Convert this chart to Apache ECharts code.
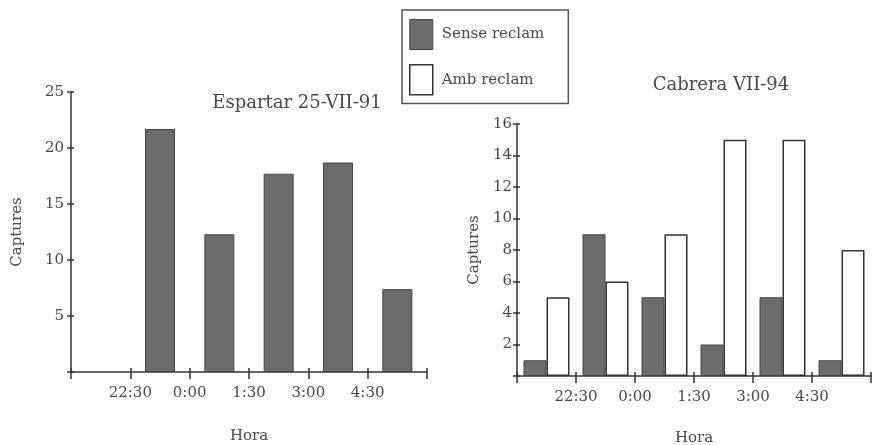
<!DOCTYPE html>
<html>
<head>
<meta charset="utf-8">
<script src="https://cdn.jsdelivr.net/npm/echarts@6/dist/echarts.min.js"></script>
<style>
html,body{margin:0;padding:0;background:#fff;}
#c{width:873px;height:445px;}
</style>
</head>
<body>
<div id="c"></div>
<script>
// Data
const bands = ['21:00-22:30', '22:30-0:00', '0:00-1:30', '1:30-3:00', '3:00-4:30', '4:30-6:00'];
const tickLabels = ['', '22:30', '0:00', '1:30', '3:00', '4:30', ''];
const espartarSense = [0, 21.7, 12.3, 17.7, 18.7, 7.4];
const cabreraSense = [1, 9, 5, 2, 5, 1];
const cabreraAmb = [5, 6, 9, 15, 15, 8];
const titles = ['Espartar 25-VII-91', 'Cabrera VII-94'];
const seriesNames = ['Sense reclam', 'Amb reclam'];

const FONT = 'DejaVu Serif';
const TXT = '#484848';
const AX = '#333333';
const DARK = '#6c6c6c';

const chart = echarts.init(document.getElementById('c'));

// empty bins are drawn as no bar (avoid a zero-height outlined rect)
const noZero = arr => arr.map(v => (v === 0 ? '-' : v));

function xAxes(gi, nameGap) {
  return [
    {
      type: 'category', gridIndex: gi, data: bands, boundaryGap: true,
      axisLine: { show: true, lineStyle: { color: AX, width: 1.5 } },
      axisTick: { show: true, inside: false, length: 7, interval: 0, lineStyle: { color: AX, width: 1.5 } },
      axisLabel: { show: false },
      name: 'Hora', nameLocation: 'middle', nameGap: nameGap,
      nameTextStyle: { fontFamily: FONT, fontSize: 15, color: TXT }
    },
    {
      type: 'category', gridIndex: gi, data: tickLabels, boundaryGap: false, position: 'bottom',
      axisLine: { show: false },
      axisTick: { show: true, inside: true, length: 4, interval: 0, lineStyle: { color: AX, width: 1.5 } },
      axisLabel: { show: true, interval: 0, margin: 14, fontFamily: FONT, fontSize: 15, color: TXT }
    }
  ];
}
function yAxes(gi, max, interval, nameGap, margin) {
  return [
    {
      type: 'value', gridIndex: gi, min: 0, max: max, interval: interval,
      splitLine: { show: false },
      axisLine: { show: true, lineStyle: { color: AX, width: 1.5 } },
      axisTick: { show: true, inside: false, length: 4, lineStyle: { color: AX, width: 1.5 } },
      axisLabel: { margin: margin, fontFamily: FONT, fontSize: 15, color: TXT,
        formatter: v => (v === 0 ? '' : String(v)) },
      name: 'Captures', nameLocation: 'middle', nameGap: nameGap, nameRotate: 90,
      nameTextStyle: { fontFamily: FONT, fontSize: 15, color: TXT }
    },
    {
      type: 'value', gridIndex: gi, min: 0, max: max, interval: interval, position: 'left',
      splitLine: { show: false },
      axisLine: { show: false },
      axisTick: { show: true, inside: true, length: 3, lineStyle: { color: AX, width: 1.5 } },
      axisLabel: { show: false }
    }
  ];
}

const darkStyle = { color: DARK, borderColor: '#444', borderWidth: 1 };
const whiteStyle = { color: '#ffffff', borderColor: '#333', borderWidth: 1.5 };

chart.setOption({
  animation: false,
  backgroundColor: '#fff',
  textStyle: { fontFamily: FONT },
  title: [
    { text: titles[0], left: 292, top: 89, textAlign: 'center',
      textStyle: { fontFamily: FONT, fontSize: 18, fontWeight: 'normal', color: TXT } },
    { text: titles[1], left: 716, top: 71, textAlign: 'center',
      textStyle: { fontFamily: FONT, fontSize: 18, fontWeight: 'normal', color: TXT } }
  ],
  legend: {
    orient: 'vertical', left: 402, top: 10,
    padding: [9, 24, 8, 7], itemGap: 14, itemWidth: 23, itemHeight: 30,
    borderColor: '#555', borderWidth: 1.5,
    textStyle: { fontFamily: FONT, fontSize: 15, color: TXT, padding: [0, 0, 0, 4] },
    data: [
      { name: seriesNames[0], icon: 'rect', itemStyle: darkStyle },
      { name: seriesNames[1], icon: 'rect', itemStyle: whiteStyle }
    ]
  },
  grid: [
    { left: 71, top: 92, width: 356, height: 280, outerBoundsMode: 'none', containLabel: false },
    { left: 517, top: 124, width: 354, height: 252, outerBoundsMode: 'none', containLabel: false }
  ],
  xAxis: [...xAxes(0, 57), ...xAxes(1, 55)],
  yAxis: [...yAxes(0, 25, 5, 46, 7), ...yAxes(1, 16, 2, 35, 5)],
  series: [
    { name: seriesNames[0], type: 'bar', xAxisIndex: 0, yAxisIndex: 0, data: noZero(espartarSense),
      barWidth: 30, itemStyle: darkStyle },
    { name: seriesNames[0], type: 'bar', xAxisIndex: 2, yAxisIndex: 2, data: noZero(cabreraSense),
      barWidth: 23, barGap: '0%', itemStyle: darkStyle },
    { name: seriesNames[1], type: 'bar', xAxisIndex: 2, yAxisIndex: 2, data: noZero(cabreraAmb),
      barWidth: 23, barGap: '0%', itemStyle: whiteStyle }
  ]
});
</script>
</body>
</html>
